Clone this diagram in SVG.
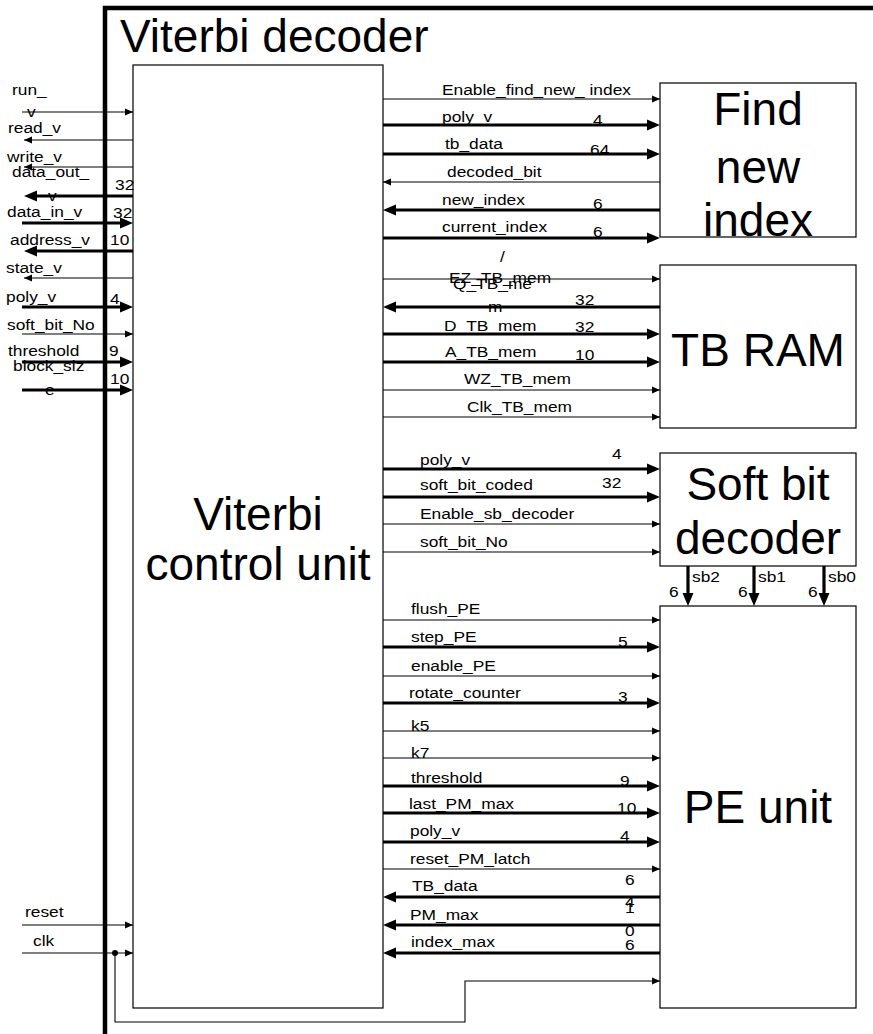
<svg xmlns="http://www.w3.org/2000/svg" width="873" height="1034" viewBox="0 0 873 1034">
<defs>
<style>
.s{font-family:"Liberation Sans",Arial,sans-serif;font-size:15.5px;fill:#000;transform:scaleX(1.12);transform-box:fill-box;transform-origin:0 0}
.b{font-family:"Liberation Sans",Arial,sans-serif;font-size:46px;fill:#000;text-anchor:middle}
.box{fill:#fff;stroke:#000;stroke-width:1.2}
.t{fill:none;stroke:#000;stroke-width:1.1;marker-end:url(#a)}
.T{fill:none;stroke:#000;stroke-width:3.2;marker-end:url(#A)}
</style>
<marker id="a" markerUnits="userSpaceOnUse" markerWidth="9" markerHeight="8" refX="8" refY="4" orient="auto"><path d="M0,0.5 L8,4 L0,7.5z" fill="#000"/></marker>
<marker id="A" markerUnits="userSpaceOnUse" markerWidth="14" markerHeight="12" refX="8" refY="6" orient="auto"><path d="M0,0.5 L13,6 L0,11.5z" fill="#000"/></marker>
</defs>
<rect width="873" height="1034" fill="#fff"/>

<g id="viterbi-decoder">
<path d="M105,1034 V8 H873" fill="none" stroke="#000" stroke-width="4.5"/>
<text x="120" y="52" font-family="Liberation Sans, Arial, sans-serif" font-size="46">Viterbi decoder</text>
</g>

<g id="control-unit">
<rect class="box" x="133" y="65" width="250" height="943"/>
<text class="b" x="258" y="530">Viterbi</text>
<text class="b" x="258" y="580">control unit</text>
</g>

<g id="find-new-index">
<rect class="box" x="660" y="83" width="196" height="154"/>
<text class="b" x="758" y="125">Find</text>
<text class="b" x="758" y="183">new</text>
<text class="b" x="758" y="236">index</text>
</g>

<g id="tb-ram">
<rect class="box" x="660" y="265" width="196" height="163"/>
<text class="b" x="758" y="366">TB RAM</text>
</g>

<g id="soft-bit-decoder">
<rect class="box" x="660" y="453" width="196" height="113"/>
<text class="b" x="758" y="500">Soft bit</text>
<text class="b" x="758" y="554">decoder</text>
</g>

<g id="pe-unit">
<rect class="box" x="660" y="606" width="196" height="402"/>
<text class="b" x="758" y="823">PE unit</text>
</g>

<g id="connectors">
<path class="t" d="M22,112 H133"/>
<path class="t" d="M133,140 H24"/>
<path class="t" d="M133,167 H24"/>
<path class="T" d="M133,196 H29"/>
<path class="T" d="M22,223 H128"/>
<path class="T" d="M133,251 H29"/>
<path class="t" d="M133,278 H24"/>
<path class="T" d="M22,307 H128"/>
<path class="t" d="M22,334 H133"/>
<path class="T" d="M22,362 H128"/>
<path class="T" d="M22,390 H128"/>
<path class="t" d="M22,925 H133"/>
<path class="t" d="M22,953 H133"/>
<circle cx="115" cy="953" r="3" fill="#000"/>
<path class="t" d="M115,953 V1022 H465 V981 H660"/>
<path class="t" d="M383,99 H660"/>
<path class="T" d="M383,125 H655"/>
<path class="T" d="M383,154 H655"/>
<path class="t" d="M660,182 H383"/>
<path class="T" d="M660,210 H388"/>
<path class="T" d="M383,238 H655"/>
<path class="t" d="M383,279 H660"/>
<path class="T" d="M660,307 H388"/>
<path class="T" d="M383,334 H655"/>
<path class="T" d="M383,362 H655"/>
<path class="t" d="M383,390 H660"/>
<path class="t" d="M383,417 H660"/>
<path class="T" d="M383,469 H655"/>
<path class="T" d="M383,497 H655"/>
<path class="t" d="M383,524 H660"/>
<path class="t" d="M383,552 H660"/>
<path class="T" d="M688,566 V601"/>
<path class="T" d="M754,566 V601"/>
<path class="T" d="M824,566 V601"/>
<path class="t" d="M383,620 H660"/>
<path class="T" d="M383,647 H655"/>
<path class="t" d="M383,676 H660"/>
<path class="T" d="M383,703 H655"/>
<path class="t" d="M383,731 H660"/>
<path class="t" d="M383,758 H660"/>
<path class="T" d="M383,786 H655"/>
<path class="T" d="M383,813 H655"/>
<path class="T" d="M383,842 H655"/>
<path class="t" d="M383,869 H660"/>
<path class="T" d="M660,897 H388"/>
<path class="T" d="M660,925 H388"/>
<path class="T" d="M660,953 H388"/>
</g>

<g id="labels">
<text class="s" x="12" y="95">run_</text>
<text class="s" x="27" y="117">v</text>
<text class="s" x="8" y="133">read_v</text>
<text class="s" x="7" y="162">write_v</text>
<text class="s" x="12" y="177">data_out_</text>
<text class="s" x="48" y="201">v</text>
<text class="s" x="115" y="190">32</text>
<text class="s" x="7" y="217">data_in_v</text>
<text class="s" x="113" y="218">32</text>
<text class="s" x="10" y="245">address_v</text>
<text class="s" x="110" y="245">10</text>
<text class="s" x="6" y="273">state_v</text>
<text class="s" x="6" y="302">poly_v</text>
<text class="s" x="110" y="304">4</text>
<text class="s" x="7" y="330">soft_bit_No</text>
<text class="s" x="8" y="356">threshold</text>
<text class="s" x="109" y="356">9</text>
<text class="s" x="13" y="371">block_siz</text>
<text class="s" x="45" y="395">e</text>
<text class="s" x="110" y="384">10</text>
<text class="s" x="25" y="917">reset</text>
<text class="s" x="33" y="946">clk</text>

<text class="s" x="442" y="95">Enable_find_new_ index</text>
<text class="s" x="442" y="122">poly_v</text>
<text class="s" x="593" y="125">4</text>
<text class="s" x="445" y="149">tb_data</text>
<text class="s" x="590" y="155">64</text>
<text class="s" x="447" y="177">decoded_bit</text>
<text class="s" x="442" y="205">new_index</text>
<text class="s" x="593" y="209">6</text>
<text class="s" x="442" y="232">current_index</text>
<text class="s" x="593" y="237">6</text>

<text class="s" x="500" y="262">/</text>
<text class="s" x="449" y="283">EZ_TB_mem</text>
<text class="s" x="453" y="289">Q_TB_me</text>
<text class="s" x="488" y="312">m</text>
<text class="s" x="575" y="305">32</text>
<text class="s" x="444" y="331">D_TB_mem</text>
<text class="s" x="575" y="332">32</text>
<text class="s" x="445" y="357">A_TB_mem</text>
<text class="s" x="575" y="360">10</text>
<text class="s" x="464" y="384">WZ_TB_mem</text>
<text class="s" x="467" y="412">Clk_TB_mem</text>

<text class="s" x="420" y="465">poly_v</text>
<text class="s" x="612" y="459">4</text>
<text class="s" x="420" y="490">soft_bit_coded</text>
<text class="s" x="602" y="488">32</text>
<text class="s" x="420" y="519">Enable_sb_decoder</text>
<text class="s" x="420" y="547">soft_bit_No</text>

<text class="s" x="692" y="582">sb2</text>
<text class="s" x="758" y="582">sb1</text>
<text class="s" x="828" y="582">sb0</text>
<text class="s" x="669" y="597">6</text>
<text class="s" x="738" y="597">6</text>
<text class="s" x="808" y="597">6</text>

<text class="s" x="411" y="614">flush_PE</text>
<text class="s" x="411" y="642">step_PE</text>
<text class="s" x="618" y="647">5</text>
<text class="s" x="411" y="671">enable_PE</text>
<text class="s" x="409" y="698">rotate_counter</text>
<text class="s" x="618" y="702">3</text>
<text class="s" x="411" y="731">k5</text>
<text class="s" x="411" y="758">k7</text>
<text class="s" x="411" y="783">threshold</text>
<text class="s" x="620" y="786">9</text>
<text class="s" x="409" y="809">last_PM_max</text>
<text class="s" x="617" y="813">10</text>
<text class="s" x="410" y="836">poly_v</text>
<text class="s" x="620" y="841">4</text>
<text class="s" x="410" y="864">reset_PM_latch</text>
<text class="s" x="412" y="891">TB_data</text>
<text class="s" x="625" y="885">6</text>
<text class="s" x="410" y="920">PM_max</text>
<text class="s" x="625" y="907">4</text>
<text class="s" x="625" y="913">1</text>
<text class="s" x="625" y="936">0</text>
<text class="s" x="411" y="947">index_max</text>
<text class="s" x="625" y="950">6</text>
</g>
</svg>
